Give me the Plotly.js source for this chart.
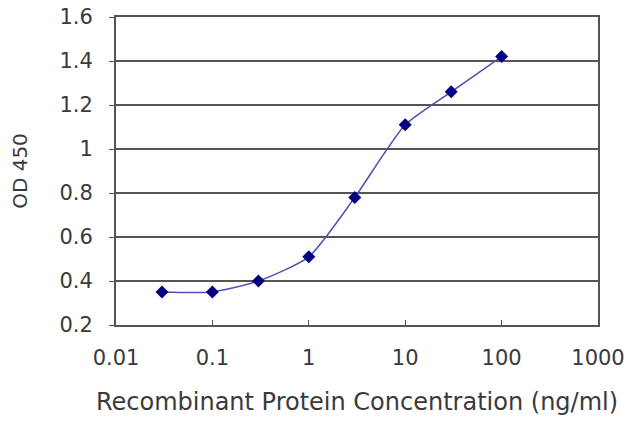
<!DOCTYPE html>
<html>
<head>
<meta charset="utf-8">
<script src="https://cdn.plot.ly/plotly-3.0.1.min.js"></script>
<style>
  html, body { margin: 0; padding: 0; background: #fff; }
  #chart { width: 640px; height: 427px; }
</style>
</head>
<body>
<div id="chart"></div>
<script>
// ELISA standard curve: concentration vs OD 450
const concentration = [0.03, 0.1, 0.3, 1, 3, 10, 30, 100];
const od450 = [0.35, 0.35, 0.40, 0.51, 0.78, 1.11, 1.26, 1.42];

const xTickVals = [0.01, 0.1, 1, 10, 100, 1000];
const xTickText = ['0.01', '0.1', '1', '10', '100', '1000'];
const yTickVals = [0.2, 0.4, 0.6, 0.8, 1, 1.2, 1.4, 1.6];
const yTickText = ['0.2', '0.4', '0.6', '0.8', '1', '1.2', '1.4', '1.6'];

const trace = {
    x: concentration,
    y: od450,
    type: 'scatter',
    mode: 'lines+markers',
    line: { shape: 'spline', smoothing: 0.6, color: '#5050b0', width: 1.5 },
    marker: { symbol: 'diamond', size: 10, color: '#000080' },
    hoverinfo: 'x+y'
};

const textFont = { family: 'DejaVu Sans', size: 21, color: '#3a3a3a' };

const layout = {
    width: 640,
    height: 427,
    margin: { l: 116, r: 42, t: 17, b: 102 },
    paper_bgcolor: '#fff',
    plot_bgcolor: '#fff',
    showlegend: false,
    xaxis: {
        type: 'log',
        range: [-2, 3],
        tickvals: xTickVals,
        ticktext: xTickText,
        ticks: 'inside',
        ticklen: 5,
        tickcolor: '#555',
        showgrid: false,
        zeroline: false,
        showline: true,
        linecolor: '#555',
        linewidth: 2,
        mirror: true,
        tickfont: textFont,
        ticklabelstandoff: 13,
        title: {
            text: 'Recombinant Protein Concentration (ng/ml)',
            font: { family: 'DejaVu Sans', size: 24, color: '#3a3a3a' },
            standoff: 24
        }
    },
    yaxis: {
        range: [0.2, 1.6],
        tickvals: yTickVals,
        ticktext: yTickText,
        ticks: 'outside',
        ticklen: 5,
        tickcolor: '#555',
        showgrid: true,
        gridcolor: '#555',
        gridwidth: 1.5,
        zeroline: false,
        showline: true,
        linecolor: '#555',
        linewidth: 2,
        mirror: true,
        tickfont: textFont,
        ticklabelstandoff: 12,
        title: {
            text: 'OD 450',
            font: { family: 'DejaVu Sans', size: 20, color: '#3a3a3a' },
            standoff: 26
        }
    }
};

Plotly.newPlot('chart', [trace], layout, { displayModeBar: false, staticPlot: true });
</script>
</body>
</html>
